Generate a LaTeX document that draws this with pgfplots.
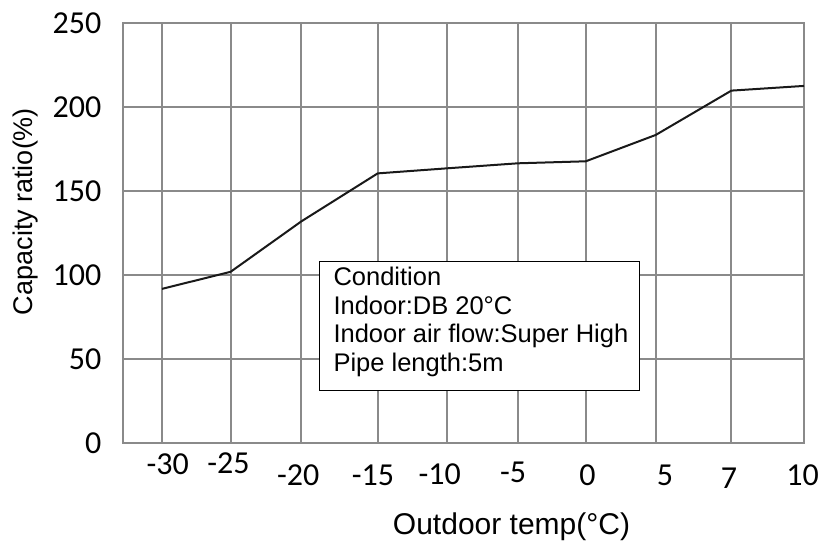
\documentclass[border=0pt]{standalone}
\usepackage{fontspec}
\setmainfont{Carlito}
\newfontfamily\arial{Liberation Sans}
\usepackage{pgfplots}
\usepackage{pgfplotstable}
\pgfplotsset{compat=1.18}
\definecolor{gridgray}{RGB}{138,138,138}
\definecolor{linecol}{RGB}{25,25,25}
\newcommand\tl[3]{\raisebox{#2}[0pt][0pt]{\makebox[0pt]{\hspace*{#1}#3\hspace*{-#1}}}}
\pgfplotstableread{
pos    temp  value
0      -30   91.8
0.963  -25   102
1.953  -20   132
3.024  -15   160.6
3.992  -10   163.6
4.987  -5    166.6
5.941  0     167.8
6.922  5     183.5
7.982  7     209.9
9.0    10    212.7
}\capdata
\begin{document}
\begin{tikzpicture}
\begin{axis}[
  at={(0pt,0pt)}, anchor=south west,
  scale only axis, width=680.7pt, height=419.7pt,
  xmin=-0.5425, xmax=9, ymin=0, ymax=250,
  xtick={0,0.963,1.953,3.024,3.992,4.987,5.941,6.922,7.982,9.0},
  xticklabels={\tl{5.7pt}{11pt}{-30},\tl{-2.2pt}{12pt}{-25},\tl{-3pt}{0pt}{-20},\tl{-4.7pt}{0pt}{-15},\tl{-7pt}{1pt}{-10},\tl{-4.7pt}{2pt}{-5},\tl{1.8pt}{0pt}{0},\tl{9.3pt}{0pt}{5},\tl{-2.3pt}{-3pt}{7},\tl{-1.5pt}{0pt}{10}},
  ytick={0,50,100,150,200,250},
  grid=major,
  major grid style={gridgray, line width=2pt},
  axis line style={gridgray, line width=2pt},
  tick style={draw=none},
  /pgf/number format/assume math mode=true,
  xticklabel style={anchor=base, inner sep=0pt, yshift=-42pt, font=\fontsize{32}{38}\selectfont},
  yticklabel style={anchor=east, inner sep=0pt, xshift=-21.8pt, font=\fontsize{32}{38}\selectfont},
  xlabel={Outdoor temp(°C)},
  xlabel style={at={(axis description cs:0.5703,-0.2192)}, anchor=base, inner sep=0pt, font=\arial\fontsize{30}{36}\selectfont},
  ylabel={Capacity ratio(\%)},
  ylabel style={at={(axis description cs:-0.1327,0.5516)}, anchor=base, inner sep=0pt, font=\arial\fontsize{27}{32}\selectfont},
]
\addplot[linecol, line width=2pt, line join=round, mark=none] table[x=pos, y=value] {\capdata};
\draw[black, line width=1pt, fill=white] (axis cs:2.205,31) rectangle (axis cs:6.691,108.4);
\node[anchor=base west, inner sep=0pt, font=\arial\fontsize{25.5}{28}\selectfont] at (axis cs:2.4015,93.52) {Condition};
\node[anchor=base west, inner sep=0pt, font=\arial\fontsize{25.5}{28}\selectfont] at (axis cs:2.4015,76.54) {Indoor:DB 20°C};
\node[anchor=base west, inner sep=0pt, font=\arial\fontsize{25.5}{28}\selectfont] at (axis cs:2.4015,59.57) {Indoor air flow:Super High};
\node[anchor=base west, inner sep=0pt, font=\arial\fontsize{25.5}{28}\selectfont] at (axis cs:2.4015,42.59) {Pipe length:5m};
\end{axis}
\pgfresetboundingbox
\useasboundingbox (-123.3pt,-98pt) rectangle (715.7pt,443pt);
\end{tikzpicture}
\end{document}
